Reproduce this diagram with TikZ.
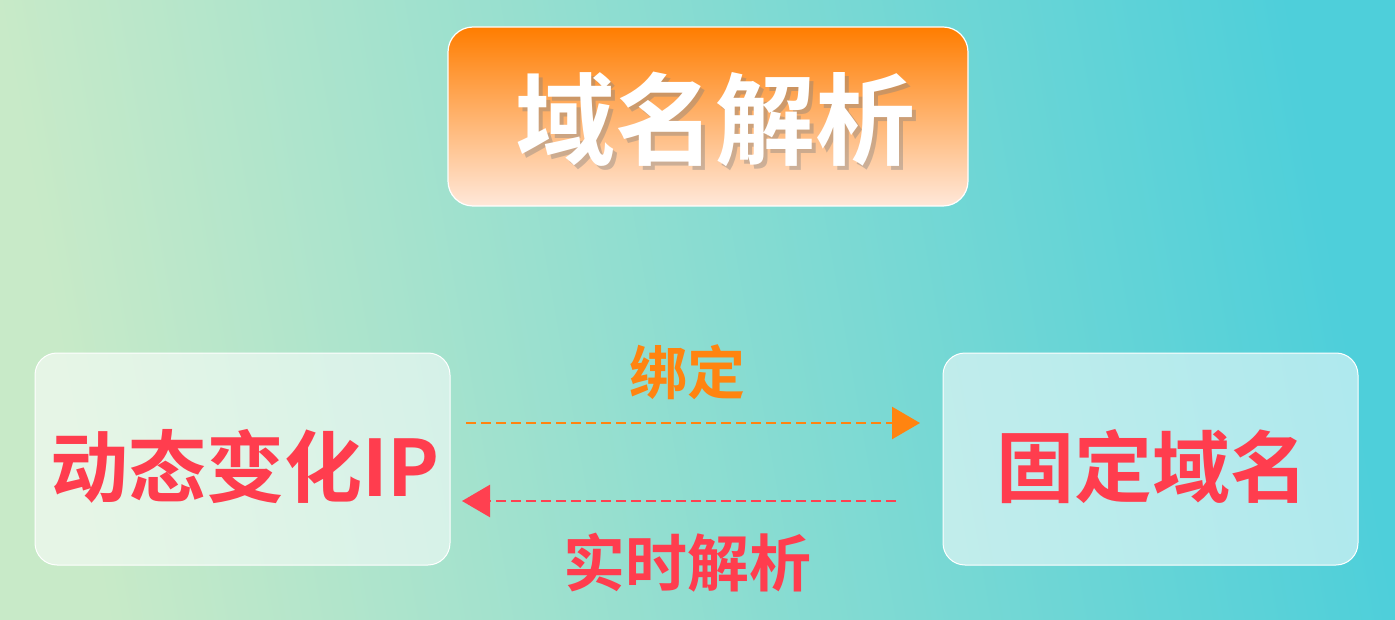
\documentclass[tikz,border=0pt]{standalone}
\usepackage{fontspec}
\setmainfont{Noto Sans CJK SC}
\newfontfamily\cjkb{Noto Sans CJK SC Bold}
\usetikzlibrary{arrows.meta}
\definecolor{bgleft}{HTML}{C8EAC8}
\definecolor{bgright}{HTML}{4ECFDA}
\definecolor{ttop}{HTML}{FF7D00}
\definecolor{tbot}{HTML}{FFE8DA}
\definecolor{redtxt}{HTML}{FF3D4E}
\definecolor{orgtxt}{HTML}{FF8410}
\definecolor{arrred}{HTML}{FF4050}
\tikzset{
  panel/.style={draw=white, line width=1pt, rounded corners=22pt, fill=white, fill opacity=0.55, text opacity=1},
  boxtxt/.style={font=\cjkb\fontsize{78}{78}\selectfont, text=redtxt},
  dasharrow/.style={line width=2.6pt, dash pattern=on 10pt off 5pt, -{Triangle[length=28pt,width=32pt]}},
}
\begin{document}
\begin{tikzpicture}[x=1pt,y=-1pt]
\useasboundingbox (0,0) rectangle (1395,620);
\shade[left color=bgleft, right color=bgright, shading angle=100] (0,0) rectangle (1395,620);
% title
\shade[top color=ttop, bottom color=tbot, rounded corners=25pt] (448,27) rectangle (968,206);
\draw[white, line width=1.2pt, rounded corners=25pt] (448,27) rectangle (968,206);
\node[font=\cjkb\fontsize{100}{100}\selectfont, text=black!50, opacity=0.4] at (719,123) {域名解析};
\node[font=\cjkb\fontsize{100}{100}\selectfont, text=white] (title) at (715,119) {域名解析};
% panels
\draw[panel] (35,353) rectangle (450,565);
\node[boxtxt] (left) at (245,467) {动态变化IP};
\draw[panel] (943,353) rectangle (1358,565);
\node[boxtxt] (right) at (1152,467) {固定域名};
% arrows
\coordinate (a1s) at (466,423);
\coordinate (a1e) at (920,423);
\coordinate (a2s) at (896,501);
\coordinate (a2e) at (462,501);
\draw[dasharrow, color=orgtxt] (a1s) -- (a1e);
\draw[dasharrow, color=arrred] (a2s) -- (a2e);
\node[font=\cjkb\fontsize{58}{58}\selectfont, text=orgtxt] (bind) at (687,372) {绑定};
\node[font=\cjkb\fontsize{62}{62}\selectfont, text=redtxt] (resolve) at (687,563) {实时解析};
\end{tikzpicture}
\end{document}
